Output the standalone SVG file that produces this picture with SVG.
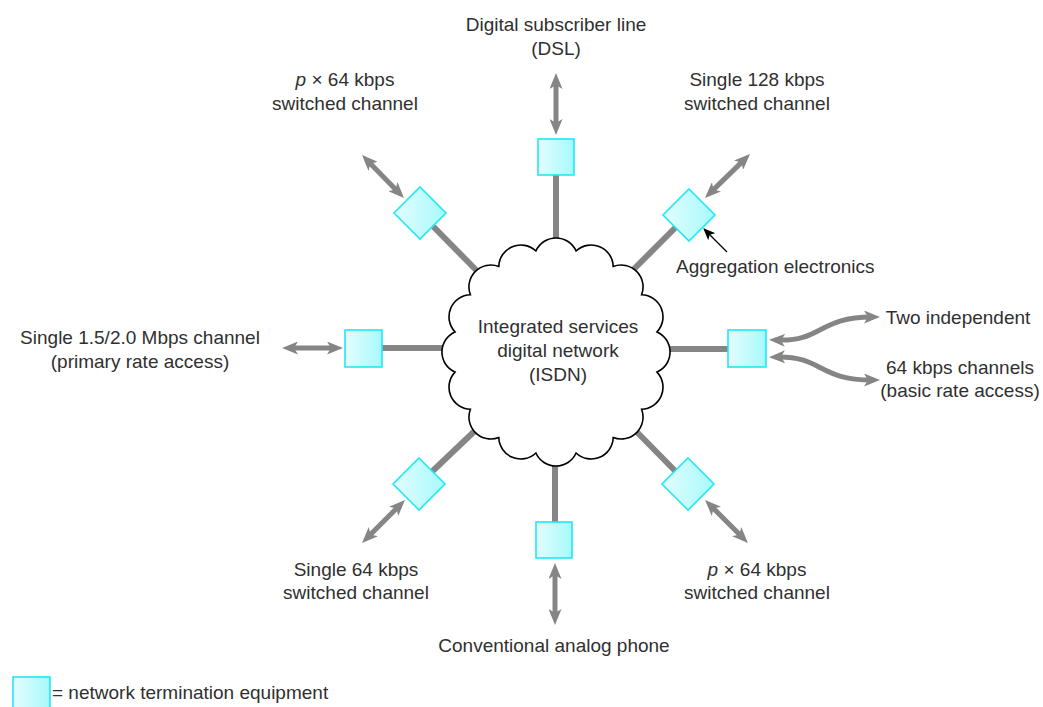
<svg xmlns="http://www.w3.org/2000/svg" width="1043" height="707" viewBox="0 0 1043 707">
  <style>
    text { font-family: "Liberation Sans", Arial, sans-serif; font-size: 19px; fill: #303030; }
    .c { text-anchor: middle; }
    .link { stroke: #858585; stroke-width: 6; fill: none; }
    .arr { stroke: #858585; stroke-width: 5; fill: none; marker-start: url(#ah); marker-end: url(#ah); }
    .ntf { fill: url(#ntg); stroke: #1fe9f6; stroke-width: 1.6; }
    .cloud { fill: #ffffff; stroke: #000000; stroke-width: 1.6; }
  </style>
  <defs>
    <linearGradient id="ntg" x1="0" y1="0" x2="1" y2="0">
      <stop offset="0" stop-color="#e4fdfe"/>
      <stop offset="1" stop-color="#a6fafc"/>
    </linearGradient>
    <marker id="ah" viewBox="0 0 16 13" refX="8" refY="6.5" markerWidth="16" markerHeight="13" markerUnits="userSpaceOnUse" orient="auto-start-reverse">
      <path d="M0,0 L16,6.5 L0,13 L4,6.5 z" fill="#858585"/>
    </marker>
    <marker id="bk" viewBox="0 0 12 10" refX="11" refY="5" markerWidth="12" markerHeight="10" markerUnits="userSpaceOnUse" orient="auto">
      <path d="M0,0 L12,5 L0,10 L3,5 z" fill="#000000"/>
    </marker>
  </defs>
  <rect width="1043" height="707" fill="#ffffff"/>

  <g id="connectors">
    <line class="link" x1="556" y1="160" x2="556" y2="250"/>
    <line class="link" x1="420" y1="213" x2="480" y2="274"/>
    <line class="link" x1="689" y1="214" x2="632" y2="271"/>
    <line class="link" x1="363" y1="348" x2="452" y2="348"/>
    <line class="link" x1="747" y1="349" x2="660" y2="349"/>
    <line class="link" x1="419" y1="484" x2="481" y2="425"/>
    <line class="link" x1="555" y1="540" x2="555" y2="458"/>
    <line class="link" x1="688" y1="484" x2="630" y2="425"/>

    <line class="arr" x1="556" y1="81" x2="556" y2="127"/>
    <line class="arr" x1="367.6" y1="160.7" x2="398.4" y2="192.3"/>
    <line class="arr" x1="710.7" y1="192.4" x2="744.3" y2="159.6"/>
    <line class="arr" x1="290" y1="348" x2="335" y2="348"/>
    <line class="arr" x1="399.3" y1="505.7" x2="367.7" y2="537.3"/>
    <line class="arr" x1="555" y1="571" x2="555" y2="617"/>
    <line class="arr" x1="710.7" y1="505.7" x2="742.3" y2="537.3"/>
    <path class="arr" d="M777,340 C822,342 818,317 872,317"/>
    <path class="arr" d="M777,357 C822,356 818,380 872,380"/>

    <line x1="727" y1="252" x2="704" y2="229" stroke="#000000" stroke-width="1.2" marker-end="url(#bk)"/>
  </g>

  <g id="isdn-cloud">
    <path class="cloud" d="M535.9,251 A22,22 0 0 1 576.1,251 A22,22 0 0 1 613.2,266.4 A22,22 0 0 1 641.6,294.8 A22,22 0 0 1 657,331.9 A22,22 0 0 1 657,372.1 A22,22 0 0 1 641.6,409.2 A22,22 0 0 1 613.2,437.6 A22,22 0 0 1 576.1,453 A22,22 0 0 1 535.9,453 A22,22 0 0 1 498.8,437.6 A22,22 0 0 1 470.4,409.2 A22,22 0 0 1 455,372.1 A22,22 0 0 1 455,331.9 A22,22 0 0 1 470.4,294.8 A22,22 0 0 1 498.8,266.4 A22,22 0 0 1 535.9,251 Z"/>
    <text class="c" x="558" y="333">Integrated services</text>
    <text class="c" x="558" y="357">digital network</text>
    <text class="c" x="558" y="381">(ISDN)</text>
  </g>

  <g id="nt-top">
    <rect class="ntf" x="538" y="139" width="36" height="36"/>
  </g>
  <g id="nt-upper-left">
    <polygon class="ntf" points="420,187 446,213 420,239 394,213"/>
  </g>
  <g id="nt-upper-right">
    <polygon class="ntf" points="689,189 715,215 689,241 663,215"/>
  </g>
  <g id="nt-left">
    <rect class="ntf" x="345" y="330" width="37" height="37"/>
  </g>
  <g id="nt-right">
    <rect class="ntf" x="728" y="330" width="38" height="37"/>
  </g>
  <g id="nt-lower-left">
    <polygon class="ntf" points="419,458 445,484 419,510 393,484"/>
  </g>
  <g id="nt-bottom">
    <rect class="ntf" x="536" y="522" width="36" height="36"/>
  </g>
  <g id="nt-lower-right">
    <polygon class="ntf" points="688,458 714,484 688,510 662,484"/>
  </g>

  <g id="label-dsl">
    <text class="c" x="556" y="31">Digital subscriber line</text>
    <text class="c" x="556" y="55">(DSL)</text>
  </g>
  <g id="label-upper-left">
    <text class="c" x="345" y="86"><tspan font-style="italic">p</tspan> × 64 kbps</text>
    <text class="c" x="345" y="110">switched channel</text>
  </g>
  <g id="label-upper-right">
    <text class="c" x="757" y="86">Single 128 kbps</text>
    <text class="c" x="757" y="110">switched channel</text>
  </g>
  <g id="label-aggregation">
    <text x="676" y="273">Aggregation electronics</text>
  </g>
  <g id="label-left">
    <text class="c" x="140" y="344">Single 1.5/2.0 Mbps channel</text>
    <text class="c" x="140" y="368">(primary rate access)</text>
  </g>
  <g id="label-right">
    <text class="c" x="958" y="324">Two independent</text>
    <text class="c" x="960" y="374">64 kbps channels</text>
    <text class="c" x="960" y="397">(basic rate access)</text>
  </g>
  <g id="label-lower-left">
    <text class="c" x="356" y="576">Single 64 kbps</text>
    <text class="c" x="356" y="599">switched channel</text>
  </g>
  <g id="label-lower-right">
    <text class="c" x="757" y="576"><tspan font-style="italic">p</tspan> × 64 kbps</text>
    <text class="c" x="757" y="599">switched channel</text>
  </g>
  <g id="label-bottom">
    <text class="c" x="554" y="652">Conventional analog phone</text>
  </g>
  <g id="legend">
    <rect class="ntf" x="13" y="677" width="37" height="36"/>
    <text x="52" y="699">= network termination equipment</text>
  </g>
</svg>
